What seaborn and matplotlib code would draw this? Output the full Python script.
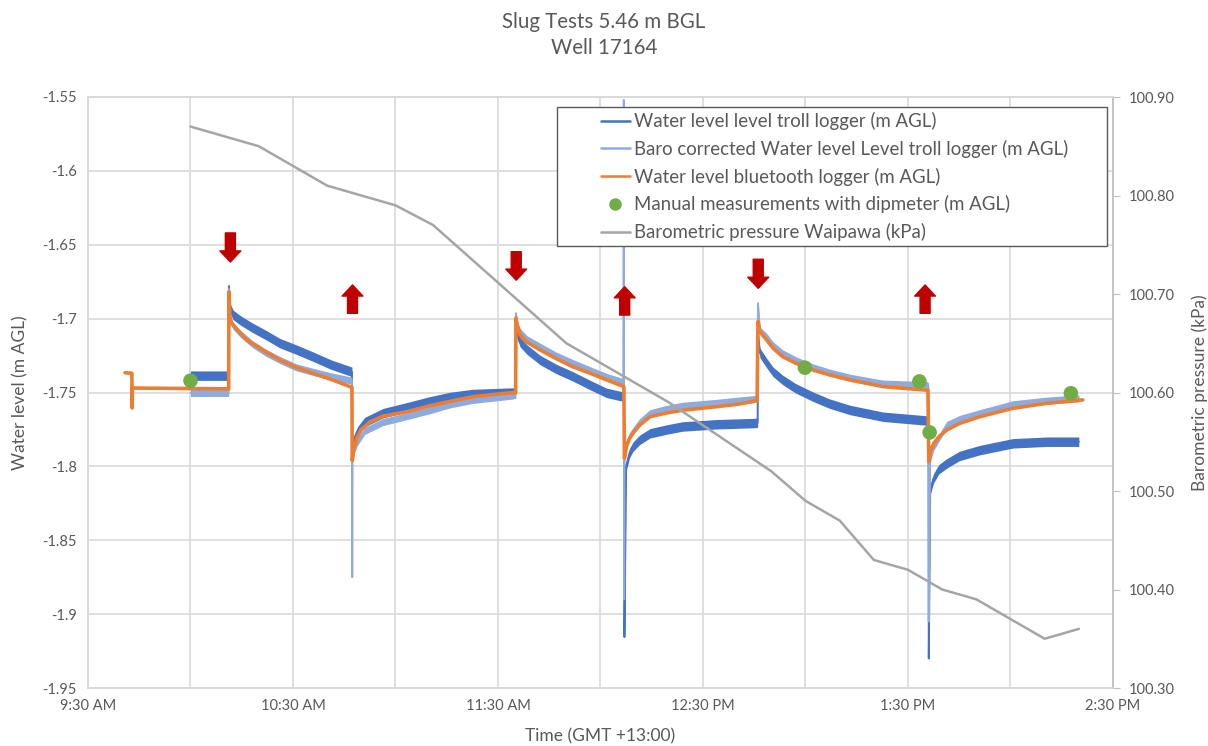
import matplotlib
matplotlib.use("Agg")
import matplotlib.pyplot as plt
import matplotlib.dates as mdates
import matplotlib.ticker as mticker
from matplotlib.lines import Line2D
from matplotlib.patches import Rectangle
import seaborn as sns
import pandas as pd
import numpy as np

DAY = "2023-01-01 "

# ---------------- data ----------------
# Water level bluetooth logger (m AGL)
bt_time = ["09:40:50", "09:42:50", "09:42:55", "09:43:00", "10:11:10", "10:11:15",
           "10:11:30", "10:12:00", "10:13:30", "10:16:30", "10:21:00", "10:26:10",
           "10:31:00", "10:35:50", "10:41:00", "10:47:15",
           "10:47:20", "10:47:50", "10:48:40", "10:50:00", "10:52:30", "10:56:20",
           "11:03:20", "11:10:00", "11:16:00", "11:22:40", "11:34:30", "11:35:10",
           "11:35:15", "11:35:40", "11:36:30", "11:38:30", "11:42:20", "11:47:00",
           "11:51:50", "11:57:00", "12:01:50", "12:06:50",
           "12:07:00", "12:07:40", "12:08:30", "12:09:30", "12:11:30", "12:14:30",
           "12:19:00", "12:24:00", "12:34:00", "12:40:00", "12:45:50",
           "12:46:05", "12:46:40", "12:48:40", "12:50:30", "12:53:20", "12:57:00",
           "13:02:10", "13:07:00", "13:13:00", "13:22:40", "13:35:50",
           "13:36:05", "13:36:40", "13:37:40", "13:39:00", "13:41:20", "13:45:00",
           "13:51:00", "14:00:40", "14:10:40", "14:21:10"]
bt_level = [-1.7366, -1.7370, -1.7605, -1.7470, -1.7475, -1.6818,
            -1.6980, -1.7030, -1.7070, -1.7145, -1.7210, -1.7280,
            -1.7330, -1.7370, -1.7410, -1.7465,
            -1.7960, -1.7880, -1.7810, -1.7750, -1.7700, -1.7660,
            -1.7630, -1.7590, -1.7560, -1.7528, -1.7500, -1.7500,
            -1.6996, -1.7050, -1.7110, -1.7160, -1.7212, -1.7270,
            -1.7325, -1.7370, -1.7415, -1.7460,
            -1.7946, -1.7860, -1.7810, -1.7775, -1.7720, -1.7664,
            -1.7640, -1.7620, -1.7596, -1.7580, -1.7555,
            -1.7020, -1.7090, -1.7145, -1.7200, -1.7258, -1.7300,
            -1.7348, -1.7380, -1.7415, -1.7460, -1.7485,
            -1.7968, -1.7890, -1.7840, -1.7800, -1.7754, -1.7710,
            -1.7664, -1.7607, -1.7573, -1.7550]

# Level troll logger: raw and baro corrected (m AGL), shared time stamps
troll_time = ["10:00:00", "10:11:10", "10:11:15", "10:11:35", "10:12:30", "10:14:30",
              "10:18:00", "10:22:00", "10:26:10", "10:31:00", "10:35:50", "10:41:00",
              "10:47:15", "10:47:20", "10:47:25", "10:48:00", "10:49:00", "10:51:00",
              "10:56:20", "11:03:20", "11:10:00", "11:16:00", "11:22:40", "11:34:30",
              "11:35:10", "11:35:15", "11:35:40", "11:36:30", "11:38:30", "11:42:20",
              "11:47:00", "11:51:50", "11:57:00", "12:01:50", "12:06:40", "12:06:50",
              "12:06:55", "12:07:00", "12:07:30", "12:08:30", "12:09:30", "12:11:30",
              "12:14:30", "12:19:30", "12:24:00", "12:34:00", "12:44:40", "12:46:00",
              "12:46:05", "12:46:40", "12:48:40", "12:50:30", "12:53:20", "12:57:00",
              "13:02:10", "13:07:00", "13:13:00", "13:22:40", "13:35:40", "13:36:00",
              "13:36:05", "13:36:30", "13:37:30", "13:39:00", "13:41:20", "13:45:00",
              "13:51:00", "14:00:40", "14:10:40", "14:20:00"]
troll_raw = [-1.7386, -1.7386, -1.6780, -1.6930, -1.6975, -1.7010,
             -1.7060, -1.7110, -1.7166, -1.7210, -1.7257, -1.7310,
             -1.7360, -1.7880, -1.7860, -1.7810, -1.7760, -1.7700,
             -1.7640, -1.7600, -1.7560, -1.7530, -1.7510, -1.7500,
             -1.7510, -1.7030, -1.7110, -1.7160, -1.7210, -1.7280,
             -1.7340, -1.7390, -1.7450, -1.7503, -1.7528, -1.7535,
             -1.7540, -1.9155, -1.8000, -1.7910, -1.7867, -1.7820,
             -1.7776, -1.7750, -1.7730, -1.7715, -1.7707, -1.7705,
             -1.7100, -1.7233, -1.7302, -1.7360, -1.7415, -1.7470,
             -1.7528, -1.7575, -1.7618, -1.7664, -1.7690, -1.7700,
             -1.9300, -1.8160, -1.8080, -1.8020, -1.7980, -1.7930,
             -1.7890, -1.7844, -1.7833, -1.7833]
troll_baro = [-1.7503, -1.7503, -1.6800, -1.7010, -1.7050, -1.7100,
              -1.7170, -1.7230, -1.7280, -1.7330, -1.7360, -1.7390,
              -1.7420, -1.8750, -1.7950, -1.7880, -1.7830, -1.7760,
              -1.7700, -1.7660, -1.7620, -1.7580, -1.7550, -1.7520,
              -1.7510, -1.6965, -1.7040, -1.7090, -1.7140, -1.7190,
              -1.7250, -1.7300, -1.7350, -1.7395, -1.7430, -1.5520,
              -1.8900, -1.7930, -1.7860, -1.7800, -1.7760, -1.7700,
              -1.7640, -1.7610, -1.7590, -1.7570, -1.7545, -1.7540,
              -1.6896, -1.7080, -1.7125, -1.7180, -1.7235, -1.7280,
              -1.7330, -1.7365, -1.7400, -1.7440, -1.7450, -1.7460,
              -1.9050, -1.7950, -1.7870, -1.7810, -1.7720, -1.7680,
              -1.7640, -1.7580, -1.7555, -1.7540]

# Manual measurements with dipmeter (m AGL)
dip_time = ["10:00:00", "12:59:50", "13:33:20", "13:36:20", "14:17:40"]
dip_level = [-1.7420, -1.7332, -1.7425, -1.7770, -1.7505]

# Barometric pressure Waipawa (kPa)
baro_time = ["10:00", "10:20", "10:40", "11:00", "11:11", "11:50", "12:20", "12:50",
             "13:00", "13:10", "13:20", "13:30", "13:40", "13:50", "14:10", "14:20"]
baro_kpa = [100.87, 100.85, 100.81, 100.79, 100.77, 100.65, 100.59, 100.52,
            100.49, 100.47, 100.43, 100.42, 100.40, 100.39, 100.35, 100.36]

# Slug in (down) / slug out (up) annotation arrows
arrow_time = ["10:11:40", "10:47:25", "11:35:20", "12:07:05", "12:46:10", "13:35:00"]
arrow_tail = [-1.6420, -1.6964, -1.6547, -1.6976, -1.6598, -1.6964]
arrow_tip = [-1.6617, -1.6772, -1.6740, -1.6784, -1.6795, -1.6772]

ylim_left = (-1.95, -1.55)
ylim_right = (100.30, 100.90)

# logger noise band half-widths (visual style of the noisy logger traces)
BAND_RAW = 0.0032
BAND_BARO = 0.0024


def tt(lst):
    return pd.to_datetime([DAY + s for s in lst])


bt = pd.DataFrame({"time": tt(bt_time), "level": bt_level})
troll = pd.DataFrame({"time": tt(troll_time), "raw": troll_raw, "baro": troll_baro})
dip = pd.DataFrame({"time": tt(dip_time), "level": dip_level})
baro = pd.DataFrame({"time": tt(baro_time), "kpa": baro_kpa})

# ---------------- styling ----------------
sns.set_style("white")
plt.rcParams["font.family"] = ["Lato", "DejaVu Sans"]
TXT = "#595959"
GRID = "#d9d9d9"
C_RAW = "#4472C4"
C_BARO_C = "#8FAADC"
C_BT = "#ED7D31"
C_DIP = "#70AD47"
C_P = "#A5A5A5"
C_ARROW = "#C00000"

fig = plt.figure(figsize=(12.08, 7.46), dpi=100)
ax = fig.add_axes([88 / 1208, 1 - 688 / 746, (1113 - 88) / 1208, (688 - 97) / 746])

tnum = mdates.date2num(troll["time"])
raw = np.asarray(troll["raw"])
bc = np.asarray(troll["baro"])

ax.fill_between(tnum, raw - BAND_RAW, raw + BAND_RAW, color=C_RAW, lw=0, zorder=2)
sns.lineplot(data=troll, x="time", y="raw", ax=ax, color=C_RAW, lw=1.4,
             estimator=None, sort=False, legend=False, zorder=2)
ax.fill_between(tnum, bc - BAND_BARO, bc + BAND_BARO, color=C_BARO_C, lw=0, zorder=3)
sns.lineplot(data=troll, x="time", y="baro", ax=ax, color=C_BARO_C, lw=1.4,
             estimator=None, sort=False, legend=False, zorder=3)
sns.lineplot(data=bt, x="time", y="level", ax=ax, color=C_BT, lw=2.6,
             estimator=None, sort=False, legend=False, zorder=4)
sns.scatterplot(data=dip, x="time", y="level", ax=ax, color=C_DIP, s=110,
                edgecolor="none", zorder=5, legend=False)

for t, a, b in zip(tt(arrow_time), arrow_tail, arrow_tip):
    ax.annotate("", xy=(mdates.date2num(t), b), xytext=(mdates.date2num(t), a),
                arrowprops=dict(arrowstyle="simple,head_length=0.8,head_width=1.5,tail_width=0.72",
                                mutation_scale=10, color=C_ARROW, shrinkA=0, shrinkB=0),
                zorder=6)

ax2 = ax.twinx()
sns.lineplot(data=baro, x="time", y="kpa", ax=ax2, color=C_P, lw=1.8,
             estimator=None, sort=False, legend=False)

# axes limits & ticks
x0 = pd.Timestamp(DAY + "09:30")
x1 = pd.Timestamp(DAY + "14:30")
ax.set_xlim(x0, x1)
ax.set_ylim(*ylim_left)
ax2.set_ylim(*ylim_right)

xt = pd.date_range(x0, x1, freq="30min")
ax.set_xticks(mdates.date2num(xt))
ax.set_xticklabels([(t.strftime("%I:%M %p").lstrip("0") if t.minute == 30 else "") for t in xt])
yt = [-1.95 + 0.05 * i for i in range(9)]
ax.set_yticks(yt)
ax.set_yticklabels([("%g" % round(v, 2)) for v in yt])
ax2.set_yticks([100.3 + 0.1 * i for i in range(7)])
ax2.yaxis.set_major_formatter(mticker.FormatStrFormatter("%.2f"))

ax.grid(True, color=GRID, lw=1.2)
ax.set_axisbelow(True)
ax.tick_params(axis="both", length=0, colors=TXT, labelsize=10.5, pad=8)
ax2.tick_params(axis="y", length=5, color="#bfbfbf", colors=TXT, labelsize=10.5, pad=6)
ax2.tick_params(axis="y", color="#bfbfbf")
for a in (ax, ax2):
    for s in a.spines.values():
        s.set_color(GRID)
        s.set_linewidth(1.2)
ax2.spines["right"].set_color("#bfbfbf")

ax.set_xlabel("Time (GMT +13:00)", color=TXT, fontsize=12.5, labelpad=11)
ax.set_ylabel("Water level (m AGL)", color=TXT, fontsize=12.5, labelpad=10)
ax2.set_ylabel("Barometric pressure (kPa)", color=TXT, fontsize=12.5, labelpad=12)

fig.text(0.5, 1 - 22 / 746, "Slug Tests 5.46 m BGL", ha="center", va="center",
         color=TXT, fontsize=14.8)
fig.text(0.5, 1 - 48 / 746, "Well 17164", ha="center", va="center",
         color=TXT, fontsize=14.8)

# legend box (Excel style: wide left margin before handles)
fig.add_artist(Rectangle((557 / 1208, 1 - 246 / 746), 550 / 1208, 139 / 746,
                         transform=fig.transFigure, facecolor="white",
                         edgecolor="#595959", lw=1.0, zorder=4))
handles = [
    Line2D([], [], color=C_RAW, lw=1.8),
    Line2D([], [], color=C_BARO_C, lw=1.8),
    Line2D([], [], color=C_BT, lw=1.8),
    Line2D([], [], color=C_DIP, lw=0, marker="o", markersize=9, markeredgewidth=0),
    Line2D([], [], color=C_P, lw=1.8),
]
labels = [
    "Water level level troll logger (m AGL)",
    "Baro corrected Water level Level troll logger (m AGL)",
    "Water level bluetooth logger (m AGL)",
    "Manual measurements with dipmeter (m AGL)",
    "Barometric pressure Waipawa (kPa)",
]
leg = fig.legend(handles, labels, loc="upper left",
                 bbox_to_anchor=(601 / 1208, 1 - 112 / 746), bbox_transform=fig.transFigure,
                 frameon=False, fontsize=13.4, handlelength=1.55, handletextpad=0.25,
                 labelspacing=0.52, borderpad=0, borderaxespad=0)
for txt in leg.get_texts():
    txt.set_color(TXT)
leg.set_zorder(6)

fig.savefig("out.png", dpi=100)
